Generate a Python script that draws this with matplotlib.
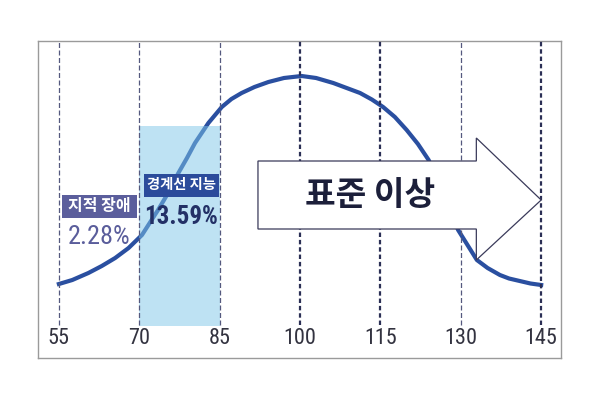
import matplotlib
matplotlib.use('Agg')
import matplotlib.pyplot as plt
from matplotlib import font_manager as fm
from matplotlib.patches import Rectangle, Polygon

# pick a narrow face for the numbers, whichever is installed
have = {f.name for f in fm.fontManager.ttflist}
narrow = [n for n in ['Liberation Sans Narrow', 'Arial Narrow', 'Roboto Condensed',
                      'Archivo Narrow', 'PT Sans Narrow', 'Encode Sans Condensed',
                      'Roboto'] if n in have][:1]
KR = ['Noto Sans CJK KR', 'DejaVu Sans']
NUM = narrow + ['DejaVu Sans']

# curve (score, height in px above frame bottom)
curve_x = [55, 57.5, 60.5, 63, 65.5, 68, 70.5, 73.5, 75.5, 77.3, 78.9, 80.4, 82.9,
           85.4, 87.2, 89.1, 91.5, 94.1, 97, 100.3, 103, 106.2, 108.7, 111.2, 113.4,
           115.5, 117.7, 119.9, 122, 124, 126.8, 129.5, 133, 135, 137.3, 139, 141,
           143, 145]
curve_y = [74, 78, 85, 92, 100, 110, 123, 148, 166, 185, 200, 215, 235,
           251, 259, 265, 271, 276, 280, 282, 280, 275, 270, 265, 258.5,
           251, 241, 228, 214, 198, 163, 128, 98, 90, 83, 79.5, 77,
           74.5, 73]

ticks = [55, 70, 85, 100, 115, 130, 145]
heavy = [100, 115, 145]
band = (70, 85)

labels = ['지적 장애', '경계선 지능']
label_pct = ['2.28%', '13.59%']
arrow_text = '표준 이상'

fig = plt.figure(figsize=(6, 4), dpi=100)
ax = fig.add_axes([38 / 600, 42 / 400, 523 / 600, 317 / 400])
ax.set_xlim(51.1, 148.7)
ax.set_ylim(0, 317)
ax.set_xticks([])
ax.set_yticks([])
for s in ax.spines.values():
    s.set_color('#9a9a9a')
    s.set_linewidth(1.0)

ax.plot(curve_x, curve_y, color='#2a4fa0', lw=3, solid_joinstyle='round', zorder=2)

ax.add_patch(Rectangle((band[0], 32), band[1] - band[0], 200, facecolor='#7fc7e9',
                       alpha=0.5, edgecolor='none', zorder=3))

for t in ticks:
    if t in heavy:
        ax.plot([t, t], [33, 317], color='#2b2f55', lw=1.6, ls=(0, (2, 1.3)), zorder=4)
    else:
        ax.plot([t, t], [33, 317], color='#55597f', lw=0.9, ls=(0, (4, 2)), zorder=4)
    ax.text(t, 19, str(t), ha='center', va='center', fontsize=16, family=NUM,
            color='#333340', zorder=6)

# arrow
arrow = Polygon([(92.15, 129), (92.15, 197), (132.9, 197), (132.9, 220), (145, 158),
                 (132.9, 98), (132.9, 129)], closed=True, facecolor='white',
                edgecolor='#3a3a5a', lw=0.9, zorder=5)
ax.add_patch(arrow)
ax.text(113.0, 163, arrow_text, ha='center', va='center', fontsize=24, family=KR,
        fontweight='bold', color='#1c1f3a', zorder=6)

# labels
ax.add_patch(Rectangle((55.6, 140), 14, 23, facecolor='#5b5e9c', edgecolor='none', zorder=6))
ax.text(62.6, 151.5, labels[0], ha='center', va='center', fontsize=11.5, family=KR,
        fontweight='bold', color='white', zorder=7)
ax.text(62.5, 121, label_pct[0], ha='center', va='center', fontsize=19, family=NUM,
        color='#5a5d9b', zorder=7)

ax.add_patch(Rectangle((70.9, 161), 14, 23, facecolor='#2b4b9b', edgecolor='none', zorder=6))
ax.text(77.9, 172.5, labels[1], ha='center', va='center', fontsize=10.3, family=KR,
        fontweight='bold', color='white', zorder=7)
ax.text(77.8, 141, label_pct[1], ha='center', va='center', fontsize=18, family=NUM,
        fontweight='bold', color='#233066', zorder=7)

fig.savefig('out.png', dpi=100)
plt.close(fig)
